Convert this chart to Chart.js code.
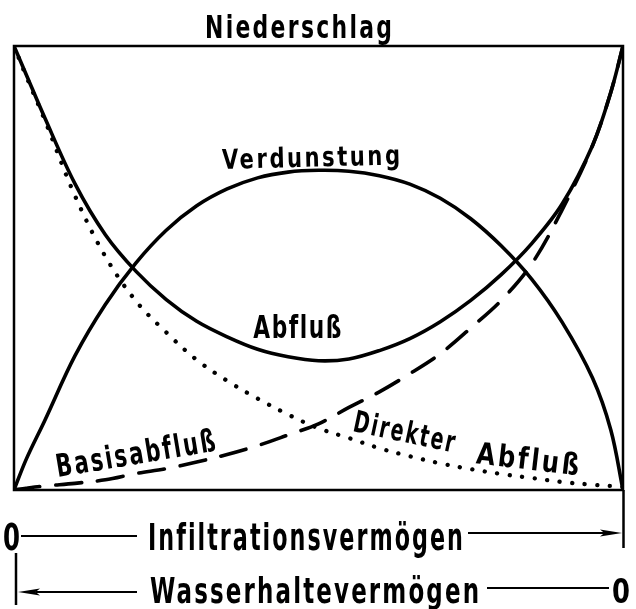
<!DOCTYPE html>
<html><head><meta charset="utf-8">
<script src="https://cdn.jsdelivr.net/npm/chart.js@4/dist/chart.umd.min.js"></script>
<style>html,body{margin:0;padding:0;background:#fff}canvas{display:block}</style>
</head><body>
<canvas id="c" width="636" height="609"></canvas>
<script>
// ---- data (relative units, 0..100 on both axes) ----
const xValues      = [0, 2, 5, 10, 15, 20, 25, 30, 35, 40, 45, 50, 55, 60, 65, 70, 75, 80, 85, 90, 95, 98, 100];
const abfluss      = [100, 93.6, 84, 69, 57.5, 49.3, 42.9, 38, 34.5, 31.7, 30, 29.1, 29.5, 31.4, 34.1, 37.9, 42.7, 48.5, 55.5, 64.4, 77.6, 89.6, 100];
const verdunstung  = [0, 6.9, 15.5, 30.2, 41.8, 51.1, 58.5, 64, 67.8, 70.3, 71.6, 72, 71.8, 70.8, 68.9, 65.7, 61.1, 55, 47.5, 37.8, 25.2, 13.5, 0];
const direkterAbfluss = [100, 93.2, 83.5, 66.3, 52.6, 42.6, 35.5, 29.3, 24.6, 20.6, 17, 13.9, 11.7, 9.4, 7.6, 6, 4.7, 3.6, 2.7, 1.8, 1.2, 0.9, 0.7];
const basisabfluss = [0, 0.4, 0.9, 1.5, 2.3, 3.7, 4.8, 6.3, 8, 10, 12.4, 14.9, 18.6, 22.1, 26.2, 30.7, 36.5, 42.7, 50.9, 63.1, 77.6, 89.6, 100];

const titleText   = 'Niederschlag';
const curveLabels = ['Verdunstung', 'Abfluß', 'Basisabfluß', 'Direkter', 'Abfluß'];
const axisTexts   = ['0', 'Infiltrationsvermögen', 'Wasserhaltevermögen', '0'];

const pts = arr => xValues.map((x, i) => ({x: x, y: arr[i]}));
const FONT = '"DejaVu Sans Condensed", "DejaVu Sans", sans-serif';

function drawLabel(ctx, text, x, y, width, capH, angleDeg, spacing) {
  const size = capH / 0.73;
  ctx.save();
  ctx.font = 'bold ' + size + 'px ' + FONT;
  ctx.letterSpacing = (spacing || 0) + 'px';
  const w = ctx.measureText(text).width - (spacing || 0);
  ctx.translate(x, y);
  ctx.rotate((angleDeg || 0) * Math.PI / 180);
  ctx.scale(width / w, 1);
  ctx.textAlign = 'left';
  ctx.textBaseline = 'alphabetic';
  ctx.fillStyle = '#000';
  ctx.fillText(text, 0, 0);
  ctx.restore();
}

function line(ctx, x1, y1, x2, y2, w) {
  ctx.beginPath();
  ctx.lineWidth = w;
  ctx.moveTo(x1, y1); ctx.lineTo(x2, y2);
  ctx.stroke();
}
function arrowHead(ctx, tipX, tipY, dir, len, half) {
  ctx.beginPath();
  ctx.moveTo(tipX, tipY);
  ctx.lineTo(tipX - dir * len, tipY - half);
  ctx.lineTo(tipX - dir * len * 0.8, tipY);
  ctx.lineTo(tipX - dir * len, tipY + half);
  ctx.closePath();
  ctx.fill();
}

const decor = {
  id: 'decor',
  afterDatasetsDraw(chart) {
    const ctx = chart.ctx;
    const a = chart.chartArea;
    const sx = chart.scales.x, sy = chart.scales.y;
    const X = v => sx.getPixelForValue(v), Y = v => sy.getPixelForValue(v);
    ctx.save();
    ctx.strokeStyle = '#000';
    ctx.fillStyle = '#000';
    ctx.lineCap = 'butt';
    // frame
    ctx.lineWidth = 2.5;
    ctx.strokeRect(a.left, a.top, a.right - a.left, a.bottom - a.top);

    // title
    drawLabel(ctx, titleText, 205, a.top - 8, 187, 23, 0, 3);

    // curve labels (anchored in data units)
    drawLabel(ctx, curveLabels[0], X(34.2), Y(72.3), 178, 20, -1.5, 3);
    drawLabel(ctx, curveLabels[1], X(39.3), Y(34.2), 88, 23, 0, 2);
    drawLabel(ctx, curveLabels[2], X(7.2), Y(2.9), 161, 23, -9.5, 3);
    drawLabel(ctx, curveLabels[3], X(55.5), Y(13.3), 103, 22, 12, 3);
    drawLabel(ctx, curveLabels[4], X(75.8), Y(6.0), 103, 22, 6.6, 3);

    // lower axis annotations
    const b = a.bottom;
    drawLabel(ctx, axisTexts[0], 3, b + 60, 17, 27, 0, 0);
    drawLabel(ctx, axisTexts[1], 148, b + 60, 315, 27, 0, 3);
    drawLabel(ctx, axisTexts[2], 150, b + 113, 329, 26, 0, 3);
    drawLabel(ctx, axisTexts[3], 612, b + 113, 18, 25, 0, 0);

    line(ctx, 21, b + 46, 137, b + 46, 2);
    line(ctx, 468, b + 43, 610, b + 43, 2);
    arrowHead(ctx, a.right - 1, b + 43, 1, 22, 3.5);
    line(ctx, a.right + 0.5, b, a.right + 0.5, b + 58, 2.5);

    line(ctx, 16, b + 63, 16, b + 115, 2.5);
    line(ctx, 36, b + 102, 137, b + 102, 2);
    arrowHead(ctx, 18, b + 102, -1, 22, 3.5);
    line(ctx, 487, b + 98, 609, b + 98, 2);
    ctx.restore();
  }
};

new Chart(document.getElementById('c'), {
  type: 'line',
  data: {
    datasets: [
      { label: 'Abfluß', data: pts(abfluss), borderColor: '#000', borderWidth: 3.6 },
      { label: 'Verdunstung', data: pts(verdunstung), borderColor: '#000', borderWidth: 3.6 },
      { label: 'Direkter Abfluß', data: pts(direkterAbfluss), borderColor: '#000', borderWidth: 4.3,
        borderDash: [0.1, 12.5], borderCapStyle: 'round' },
      { label: 'Basisabfluß', data: pts(basisabfluss), borderColor: '#000', borderWidth: 3.6,
        borderDash: [26, 16], borderCapStyle: 'round' }
    ]
  },
  options: {
    responsive: false,
    animation: false,
    devicePixelRatio: 1,
    layout: { padding: { left: 14, right: 13, top: 46, bottom: 119 } },
    elements: { point: { radius: 0 }, line: { tension: 0.35, fill: false, capBezierPoints: true } },
    scales: {
      x: { type: 'linear', min: 0, max: 100, display: false },
      y: { type: 'linear', min: 0, max: 100, display: false }
    },
    plugins: { legend: { display: false }, tooltip: { enabled: false }, title: { display: false } }
  },
  plugins: [decor]
});
</script>
</body></html>
